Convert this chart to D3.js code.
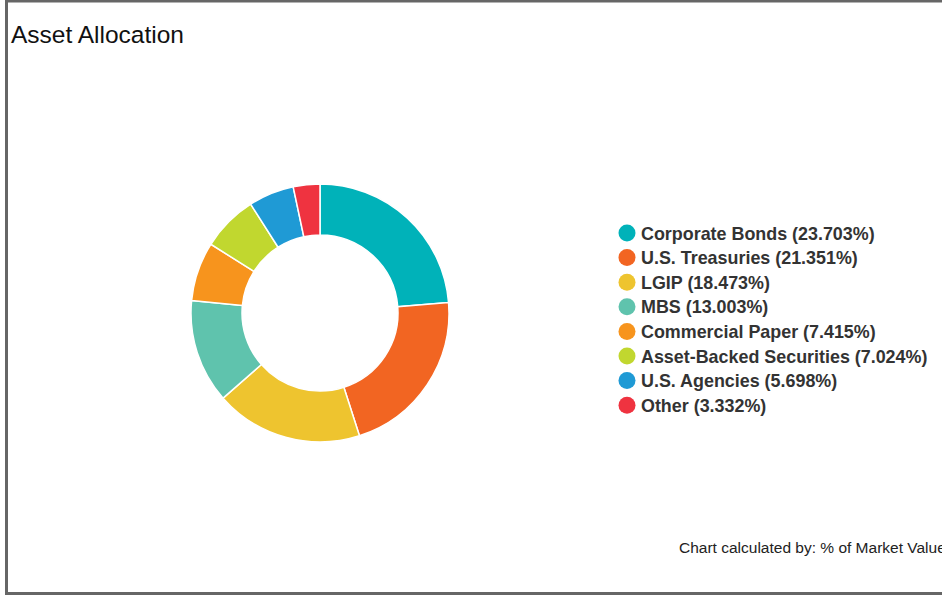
<!DOCTYPE html>
<html>
<head>
<meta charset="utf-8">
<script src="https://cdn.jsdelivr.net/npm/d3@7"></script>
<style>
  html, body { margin: 0; padding: 0; background: #fff; overflow: hidden; }
  svg { display: block; font-family: "Liberation Sans", Arial, Helvetica, sans-serif; }
</style>
</head>
<body>
<div id="chart"></div>
<script>
const categories = ["Corporate Bonds", "U.S. Treasuries", "LGIP", "MBS", "Commercial Paper", "Asset-Backed Securities", "U.S. Agencies", "Other"];
const percents = [23.703, 21.351, 18.473, 13.003, 7.415, 7.024, 5.698, 3.332];
const colors = ["#00b2b9", "#f26522", "#eec42f", "#5fc3ad", "#f7941d", "#c1d72f", "#1f9ad5", "#ef3340"];

const w = 942;
const h = 595;
const cx = 320, cy = 313;
const outerR = 129, innerR = 78;

window.onload = function() {
    const svg = d3.select("#chart")
        .append("svg")
        .attr("width", w)
        .attr("height", h);

    // frame (right side runs off the page)
    svg.append("rect")
        .attr("x", 6.5)
        .attr("y", 1)
        .attr("width", w + 10)
        .attr("height", 592.5)
        .attr("fill", "none")
        .attr("stroke", "#666")
        .attr("stroke-width", 3);

    svg.append("text")
        .attr("x", 11)
        .attr("y", 43)
        .style("font-size", "24.5px")
        .style("fill", "#111")
        .text("Asset Allocation");

    const data = categories.map((c, i) => ({name: c, value: percents[i], color: colors[i]}));

    const pie = d3.pie().sort(null).value(d => d.value);
    const arc = d3.arc().innerRadius(innerR).outerRadius(outerR);

    svg.append("g")
        .attr("transform", `translate(${cx},${cy})`)
        .selectAll("path")
        .data(pie(data))
        .enter()
        .append("path")
        .attr("d", arc)
        .style("fill", d => d.data.color)
        .style("stroke", "#fff")
        .style("stroke-width", 1.5);

    const legend = svg.append("g")
        .attr("transform", "translate(627,233)");

    const rows = legend.selectAll("g")
        .data(data)
        .enter()
        .append("g")
        .attr("transform", (d, i) => `translate(0,${i * 24.6})`);

    rows.append("circle")
        .attr("r", 8.5)
        .style("fill", d => d.color);

    rows.append("text")
        .attr("x", 14)
        .attr("y", 6.5)
        .style("font-size", "17.9px")
        .style("font-weight", "bold")
        .style("fill", "#333")
        .text(d => `${d.name} (${d.value.toFixed(3)}%)`);

    svg.append("text")
        .attr("x", 679)
        .attr("y", 553)
        .style("font-size", "15.5px")
        .style("fill", "#222")
        .text("Chart calculated by: % of Market Value");
};
</script>
</body>
</html>
